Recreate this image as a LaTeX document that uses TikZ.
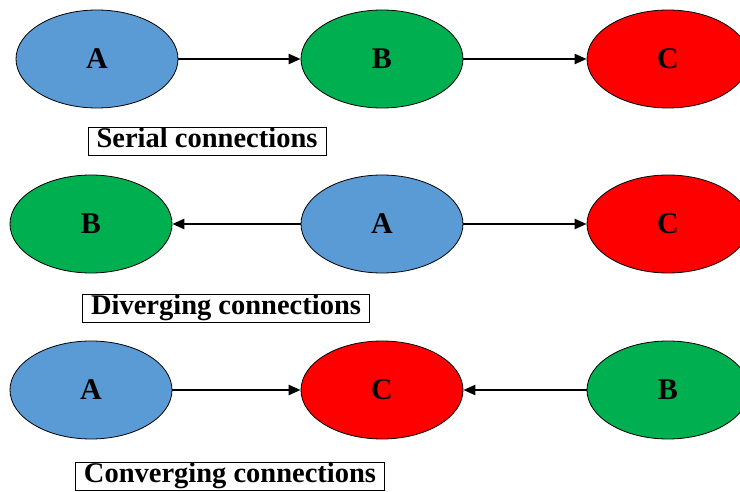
\documentclass[tikz,border=0pt]{standalone}
\usepackage{fontspec}
\setmainfont{Liberation Serif}
\usetikzlibrary{shapes.geometric,arrows.meta}
\definecolor{cblue}{HTML}{5B9BD5}
\definecolor{cgreen}{HTML}{00B050}
\definecolor{cred}{HTML}{FF0000}
\tikzset{
  ell/.style={ellipse, draw=black, line width=0.8pt, minimum width=162pt, minimum height=98pt, inner sep=0pt, font=\bfseries\fontsize{30}{30}\selectfont},
  lab/.style={draw=black, line width=0.8pt, fill=white, inner xsep=8.5pt, inner ysep=1.5pt, text height=19pt, text depth=6pt, font=\bfseries\fontsize{28.5}{30}\selectfont},
  conn/.style={line width=2.4pt, -{Triangle[length=12pt,width=10pt]}}
}
\begin{document}
\begin{tikzpicture}[x=1pt,y=-1pt]
\useasboundingbox (0,0) rectangle (740,492);
\begin{scope}
\clip (0,0) rectangle (740,492);
% row 1
\node[ell, fill=cblue]  (a1) at (97,59)  {A};
\node[ell, fill=cgreen] (b1) at (382,59) {B};
\node[ell, fill=cred]   (c1) at (668,59) {C};
\draw[conn] (a1) -- (b1);
\draw[conn] (b1) -- (c1);
\node[lab] (l1) at (207,141) {Serial connections};
% row 2
\node[ell, fill=cgreen] (b2) at (91,224)  {B};
\node[ell, fill=cblue]  (a2) at (382,224) {A};
\node[ell, fill=cred]   (c2) at (668,224) {C};
\draw[conn] (a2) -- (b2);
\draw[conn] (a2) -- (c2);
\node[lab] (l2) at (226,308) {Diverging connections};
% row 3
\node[ell, fill=cblue]  (a3) at (91,390)  {A};
\node[ell, fill=cred]   (c3) at (382,390) {C};
\node[ell, fill=cgreen] (b3) at (668,390) {B};
\draw[conn] (a3) -- (c3);
\draw[conn] (b3) -- (c3);
\node[lab] (l3) at (230,476) {Converging connections};
\end{scope}
\end{tikzpicture}
\end{document}
